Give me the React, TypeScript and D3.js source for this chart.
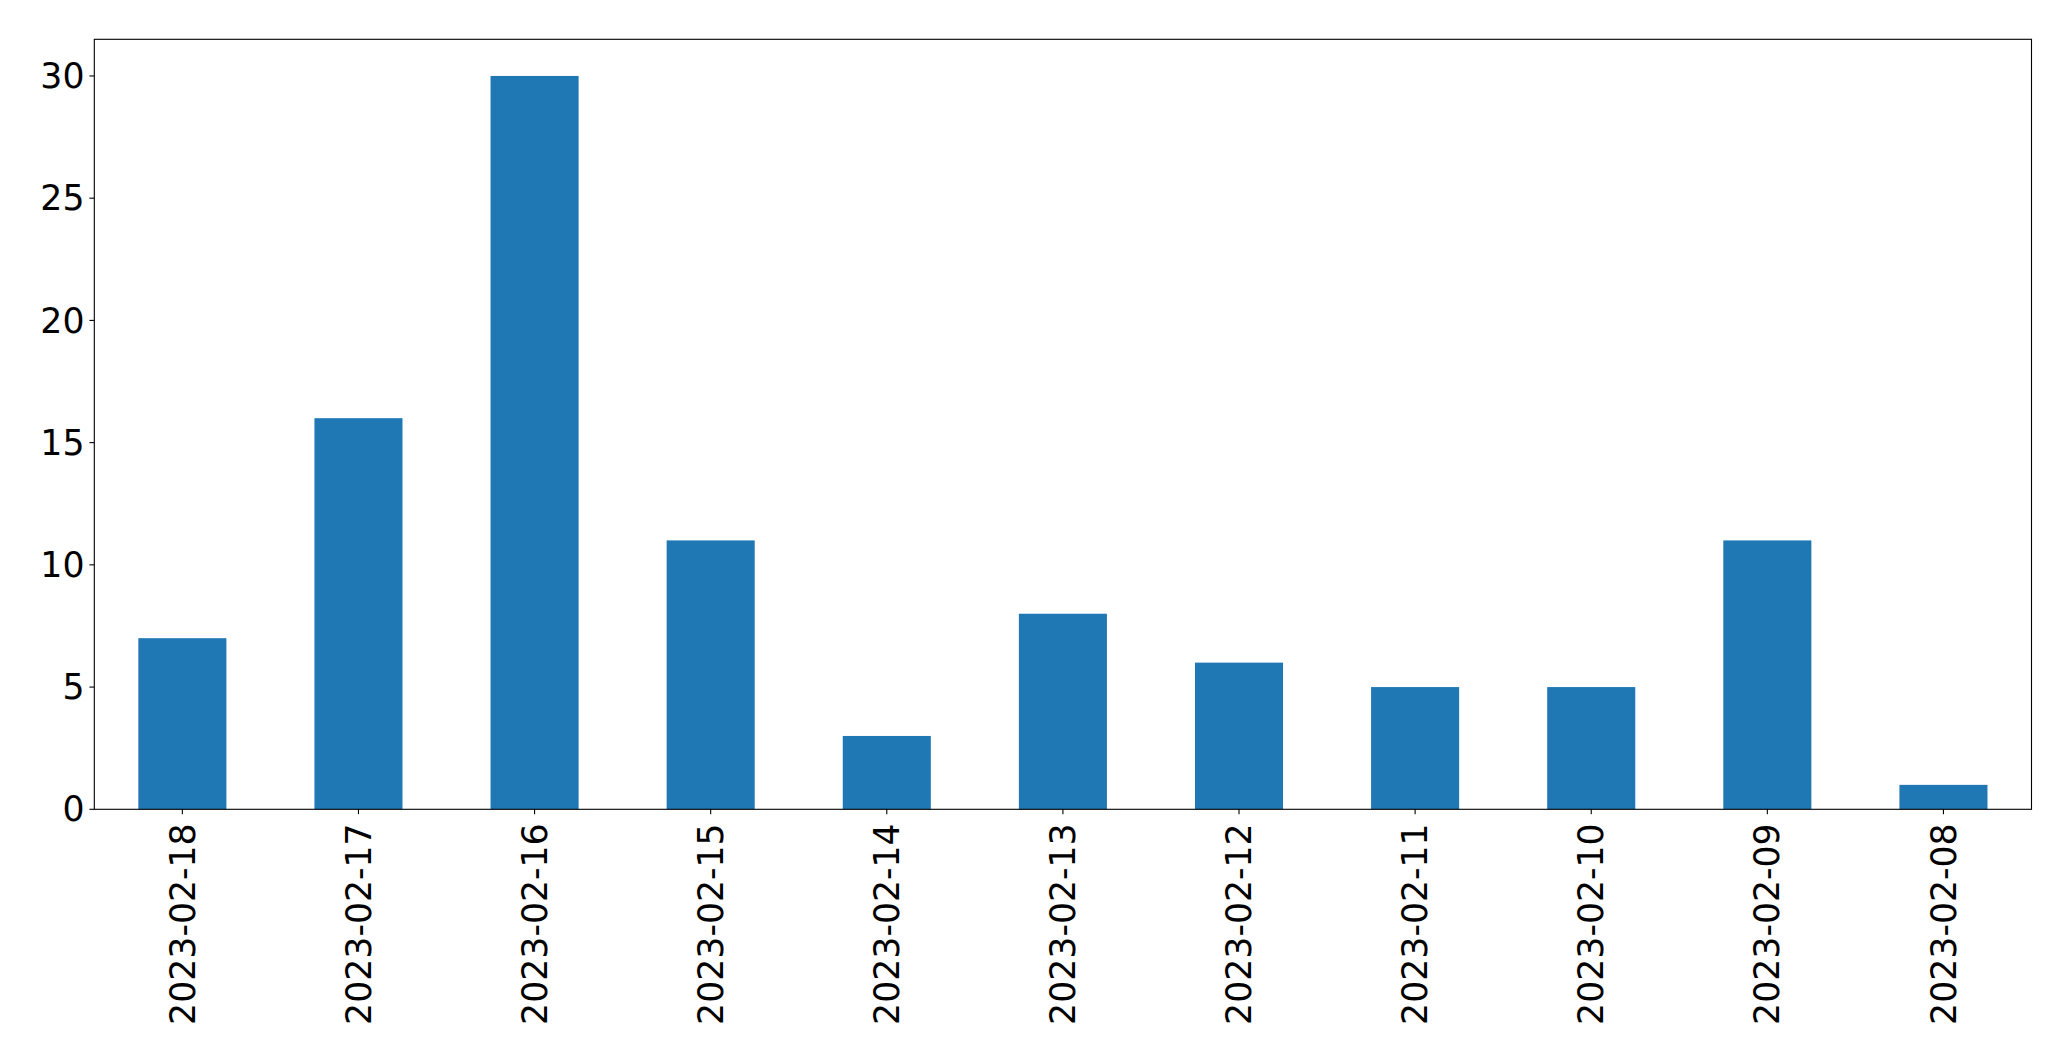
import React from "react";
import * as d3 from "d3";

const categories = ["2023-02-18","2023-02-17","2023-02-16","2023-02-15","2023-02-14","2023-02-13","2023-02-12","2023-02-11","2023-02-10","2023-02-09","2023-02-08"];
const values = [7, 16, 30, 11, 3, 8, 6, 5, 5, 11, 1];
const yTicks = [0, 5, 10, 15, 20, 25, 30];

const W = 2071, H = 1061;
const L = 94.3, R = 2031.5, T = 39.3, B = 809.3;
const FS = 34.7;
const FONT = "DejaVu Sans, sans-serif";

export default function App() {
  const x = d3.scaleLinear().domain([-0.5, categories.length - 0.5]).range([L, R]);
  const y = d3.scaleLinear().domain([0, 31.5]).range([B, T]);
  const bw = x(0.25) - x(-0.25);
  return (
    <svg width={W} height={H} style={{ position: "absolute", left: 0, top: 0, background: "#fff" }} fontFamily={FONT}>
      {values.map((v, i) => (
        <rect key={i} x={x(i) - bw / 2} y={y(v)} width={bw} height={y(0) - y(v)} fill="#1f77b4" />
      ))}
      <rect x={L} y={T} width={R - L} height={B - T} fill="none" stroke="#000" strokeWidth={1.1} />
      {yTicks.map((t) => (
        <g key={t}>
          <line x1={L - 4.9} x2={L} y1={y(t)} y2={y(t)} stroke="#000" strokeWidth={1.1} />
          <text x={L - 9.8} y={y(t)} dy="0.35em" textAnchor="end" fontSize={FS} fill="#000">{t}</text>
        </g>
      ))}
      {categories.map((c, i) => (
        <g key={c}>
          <line x1={x(i)} x2={x(i)} y1={B} y2={B + 4.9} stroke="#000" strokeWidth={1.1} />
          <text transform={`translate(${x(i)},${B + 14}) rotate(-90)`} dy="0.35em" textAnchor="end" fontSize={FS} fill="#000">{c}</text>
        </g>
      ))}
    </svg>
  );
}
